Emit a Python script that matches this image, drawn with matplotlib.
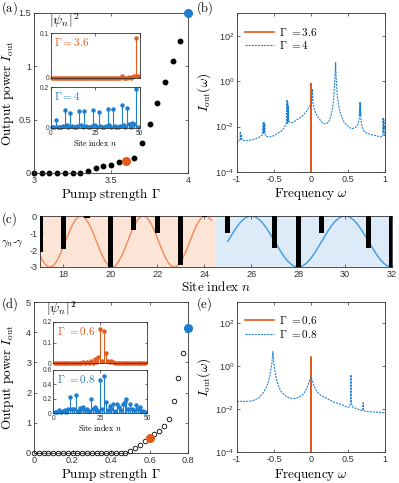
import numpy as np
import matplotlib.pyplot as plt

plt.rcParams['mathtext.fontset'] = 'cm'
plt.rcParams['font.family'] = ['Liberation Sans', 'DejaVu Sans']
plt.rcParams['axes.unicode_minus'] = False

orange = '#E25A1C'
blue = '#1E7FD0'
grey = '#333333'

# (a) output power vs pump strength
gamma_a = [3.0, 3.05, 3.1, 3.15, 3.2, 3.25, 3.3, 3.35, 3.4, 3.45, 3.5,
           3.55, 3.6, 3.65, 3.7, 3.75, 3.8, 3.85, 3.9, 3.95, 4.0]
iout_a = [0, 0, 0, 0, 0, 0, 0, 0.02, 0.044, 0.063, 0.075,
          0.10, 0.113, 0.138, 0.285, 0.46, 0.655, 0.85, 1.05, 1.24, 1.5]
pick_a = [3.6, 4.0]

# (d) output power vs pump strength
gamma_d = [0.0, 0.025, 0.05, 0.075, 0.1, 0.125, 0.15, 0.175, 0.2, 0.225, 0.25,
           0.275, 0.3, 0.325, 0.35, 0.375, 0.4, 0.425, 0.45, 0.475, 0.5,
           0.525, 0.55, 0.575, 0.6, 0.625, 0.65, 0.675, 0.7, 0.725, 0.75,
           0.775, 0.8]
iout_d = [0, 0, 0, 0, 0, 0, 0, 0, 0, 0, 0,
          0, 0, 0, 0, 0, 0, 0, 0, 0, 0.05,
          0.155, 0.27, 0.39, 0.51, 0.62, 0.74, 0.88, 1.13, 1.73, 2.5,
          3.31, 4.13]
pick_d = [0.6, 0.8]

# site profiles |psi_n|^2, n = 1..49
sites = list(range(1, 50))
psi_a36 = [0, 0, 0, 0, 0, 0, 0, 0, 0, 0,
           0, 0, 0, 0, 0, 0, 0, 0, 0, 0,
           0, 0, 0, 0, 0, 0, 0, 0, 0, 0,
           0, 0, 0, 0, 0, 0, 0, 0, 0, 0.004,
           0, 0, 0, 0.002, 0, 0.003, 0.005, 0.09, 0.004]
psi_a4 = [0.005, 0.006, 0.04, 0.005, 0.004, 0.006, 0.01, 0.088, 0.016, 0.005,
          0.073, 0.012, 0.004, 0.006, 0.01, 0.083, 0.016, 0.005, 0.083, 0.012,
          0.004, 0.006, 0.01, 0.088, 0.016, 0.005, 0.079, 0.012, 0.004, 0.006,
          0.01, 0.093, 0.016, 0.005, 0.091, 0.012, 0.004, 0.006, 0.01, 0.112,
          0.016, 0.005, 0.10, 0.02, 0.006, 0.022, 0.02, 0.19, 0.006]
psi_d06 = [0, 0, 0, 0, 0, 0, 0, 0, 0, 0,
           0, 0, 0, 0, 0, 0.003, 0, 0.004, 0, 0.008,
           0, 0.02, 0.006, 0.03, 0.165, 0.008, 0.155, 0.05, 0.012, 0.006,
           0.008, 0.003, 0, 0, 0, 0, 0, 0, 0, 0,
           0, 0, 0, 0, 0, 0, 0, 0, 0]
psi_d08 = [0.01, 0.02, 0.04, 0.02, 0.03, 0.04, 0.02, 0.05, 0.22, 0.06,
           0.06, 0.25, 0.03, 0.07, 0.05, 0.08, 0.04, 0.05, 0.03, 0.20,
           0.06, 0.08, 0.05, 0.03, 0.46, 0.05, 0.52, 0.15, 0.04, 0.10,
           0.06, 0.12, 0.03, 0.12, 0.08, 0.04, 0.13, 0.15, 0.20, 0.05,
           0.12, 0.06, 0.04, 0.11, 0.05, 0.08, 0.03, 0.03, 0.01]

# (b) spectra
w_b36 = [-1.0, -0.003, 0.0, 0.003, 1.0]
s_b36 = [1e-9, 1e-9, 0.78, 1e-9, 1e-9]
w_b4 = [-1.0, -0.98, -0.96, -0.955, -0.95, -0.94, -0.935, -0.9, -0.85, -0.8,
        -0.75, -0.7, -0.66, -0.645, -0.64, -0.635, -0.63, -0.625, -0.62, -0.6,
        -0.55, -0.5, -0.45, -0.4, -0.36, -0.335, -0.325, -0.32, -0.315, -0.31,
        -0.305, -0.3, -0.28, -0.25, -0.2, -0.15, -0.1, -0.06, -0.03, -0.01,
        0.0, 0.01, 0.02, 0.025, 0.035, 0.05, 0.08, 0.12, 0.16, 0.2,
        0.24, 0.27, 0.29, 0.305, 0.315, 0.325, 0.333, 0.34, 0.35, 0.36,
        0.375, 0.4, 0.45, 0.5,
        0.55, 0.6, 0.63, 0.65, 0.66, 0.665, 0.67, 0.675, 0.69, 0.72,
        0.76, 0.8, 0.85, 0.9, 0.95, 0.97, 0.975, 0.98, 0.985, 0.99, 1.0]
s_b4 = [2.0e-3, 2.2e-3, 2.6e-3, 6.0e-3, 2.8e-3, 4.5e-3, 2.7e-3, 2.4e-3, 2.4e-3, 2.6e-3,
        2.9e-3, 3.4e-3, 4.2e-3, 1.5e-2, 5.0e-3, 1.6e-2, 5.5e-3, 1.3e-2, 4.5e-3, 3.6e-3,
        3.5e-3, 4.0e-3, 5.0e-3, 6.5e-3, 9.0e-3, 1.3e-2, 0.15, 1.4e-2, 0.12, 1.5e-2,
        0.08, 1.6e-2, 1.5e-2, 1.5e-2, 1.9e-2, 2.4e-2, 3.3e-2, 4.7e-2, 7.0e-2, 9.0e-2,
        0.1, 0.12, 0.45, 0.12, 0.08, 0.05, 0.03, 0.02, 0.014, 0.013,
        0.016, 0.03, 0.06, 0.15, 0.45, 1.8, 6.5, 1.5, 0.4, 0.18,
        0.08, 0.035, 0.015, 0.01,
        0.008, 0.009, 0.012, 0.02, 0.12, 0.03, 0.11, 0.02, 0.01, 0.006,
        0.005, 0.0045, 0.0042, 0.0038, 0.0035, 0.004, 0.025, 0.005, 0.02, 0.004, 0.005]

# (e) spectra
w_e06 = [-1.0, -0.003, 0.0, 0.003, 1.0]
s_e06 = [1e-9, 1e-9, 2.75, 1e-9, 1e-9]
w_e08 = [-1.0, -0.9, -0.8, -0.75, -0.7, -0.65, -0.6, -0.57, -0.55, -0.53,
         -0.515, -0.5, -0.48, -0.46, -0.43, -0.4, -0.35, -0.3, -0.25, -0.2,
         -0.15, -0.1, -0.07, -0.04, -0.02, 0.0, 0.02, 0.04, 0.07, 0.1,
         0.15, 0.2, 0.25, 0.3, 0.35, 0.4, 0.45, 0.5, 0.52, 0.535,
         0.54, 0.545, 0.56, 0.6, 0.65, 0.7, 0.705, 0.71, 0.75, 0.8, 0.9, 1.0]
s_e08 = [0.023, 0.023, 0.024, 0.028, 0.035, 0.055, 0.11, 0.22, 0.5, 1.2,
         4.8, 1.2, 0.45, 0.2, 0.1, 0.065, 0.043, 0.034, 0.031, 0.032,
         0.038, 0.052, 0.075, 0.13, 0.22, 0.32, 0.2, 0.12, 0.075, 0.055,
         0.04, 0.034, 0.027, 0.022, 0.019, 0.017, 0.014, 0.012, 0.013, 0.02,
         0.4, 0.02, 0.013, 0.011, 0.0095, 0.0085, 0.02, 0.0085, 0.0078, 0.0075, 0.0072, 0.0068]

# (c) gain/loss modulation
sites_c = [17, 18, 19, 20, 21, 22, 23, 24, 25, 26, 27, 28, 29, 30, 31, 32]
gap_c = [-2.1, -1.95, -0.12, -3.0, -0.8, -1.0, -2.9, -0.03,
         -1.0, 0.0, -1.9, -3.0, -1.0, 0.0, -1.9, -3.0]
span_left = (17, 24.5)
span_right = (24.5, 32)
period_left, min_left = 2.65, 20.07
period_right, min_right = 4.0, 28.0

W, H = 399, 483
fig = plt.figure(figsize=(W / 100, H / 100), dpi=100)


def frac(l, t, r, b):
    return [l / W, 1 - b / H, (r - l) / W, (b - t) / H]


def style(ax, size=6.6, pad=2.0):
    ax.tick_params(direction='in', top=True, right=True, length=2.5, width=0.5,
                   labelsize=size, colors=grey, pad=pad)
    ax.tick_params(which='minor', length=0)
    for s in ax.spines.values():
        s.set_linewidth(0.6)
        s.set_color(grey)


def stems(ax, y, c):
    ml, sl, bl = ax.stem(sites, y, basefmt='-')
    plt.setp(sl, color=c, linewidth=0.8)
    plt.setp(ml, color=c, markersize=2.2, clip_on=False)
    plt.setp(bl, color=c, linewidth=1.0)


def power_panel(rect, g, v, picks, xlim, ylim, xt, yt, open_marks, xlab_y):
    ax = fig.add_axes(frac(*rect))
    g = np.array(g)
    v = np.array(v)
    rest = ~np.isin(np.round(g, 4), picks)
    if open_marks:
        ax.plot(g[rest], v[rest], 'o', ms=3.3, mfc='none', mec='k', mew=0.6, clip_on=False)
    else:
        ax.plot(g[rest], v[rest], 'o', ms=3.2, color='k', clip_on=False)
    for p, c in zip(picks, [orange, blue]):
        k = np.isclose(g, p)
        ax.plot(g[k], v[k], 'o', ms=5.5, color=c, clip_on=False, zorder=5)
    ax.set_xlim(*xlim)
    ax.set_ylim(*ylim)
    ax.set_xticks(xt)
    ax.set_yticks(yt)
    ax.set_xticklabels([('%g' % t) for t in xt])
    ax.set_yticklabels([('%g' % t) for t in yt])
    style(ax)
    ax.set_xlabel(r'$\mathrm{Pump\ strength}\ \Gamma$', fontsize=9.5)
    ax.set_ylabel(r'$\mathrm{Output\ power}\ I_{\mathrm{out}}$', fontsize=9.5)
    ax.xaxis.label.set_va('center')
    ax.yaxis.label.set_va('center')
    ax.xaxis.set_label_coords(0.5, xlab_y)
    ax.yaxis.set_label_coords(-0.17, 0.5)
    return ax


def inset(rect, y, c, ymax, yt, label, bottom):
    ax = fig.add_axes(frac(*rect))
    stems(ax, y, c)
    ax.set_xlim(0, 50)
    ax.set_ylim(0, ymax)
    ax.set_xticks([0, 25, 50])
    ax.set_yticks(yt)
    ax.set_yticklabels([('%g' % t) for t in yt])
    style(ax, size=4.8, pad=1.2)
    ax.tick_params(length=1.8)
    if bottom:
        ax.set_xlabel(r'$\mathrm{Site\ index}\ n$', fontsize=5.8, labelpad=0.5)
    else:
        ax.set_xticklabels([])
    ax.text(0.04, 0.93, label, transform=ax.transAxes, color=c, fontsize=8,
            ha='left', va='top')
    return ax


def spectrum_panel(rect, w1, s1, w2, s2, labels, ylim, xlab_y):
    ax = fig.add_axes(frac(*rect))
    ax.semilogy(w1, s1, '-', color=orange, lw=1.2, label=labels[0])
    ax.semilogy(w2, s2, '--', color=blue, lw=0.8, dashes=(1.8, 1.0), label=labels[1])
    ax.set_xlim(-1, 1)
    ax.set_ylim(*ylim)
    ax.set_xticks([-1, -0.5, 0, 0.5, 1])
    ax.set_xticklabels(['-1', '-0.5', '0', '0.5', '1'])
    ax.set_yticks([1e-4, 1e-2, 1e0, 1e2])
    ax.minorticks_off()
    style(ax)
    ax.set_xlabel(r'$\mathrm{Frequency}\ \omega$', fontsize=9.5)
    ax.set_ylabel(r'$I_{\mathrm{out}}(\omega)$', fontsize=9.5)
    ax.xaxis.label.set_va('center')
    ax.yaxis.label.set_va('center')
    ax.xaxis.set_label_coords(0.5, xlab_y)
    ax.yaxis.set_label_coords(-0.22, 0.5)
    ax.legend(loc='upper left', bbox_to_anchor=(0.0, 0.97), frameon=False,
              fontsize=8, handlelength=2.6, handletextpad=0.5, labelspacing=0.15,
              borderaxespad=0.3)
    return ax


# (a)
power_panel((34, 13, 188, 173), gamma_a, iout_a, pick_a, (3, 4), (0, 1.5),
            [3, 3.5, 4], [0, 0.5, 1, 1.5], False, -0.135)
inset((50.7, 33, 139.5, 78), psi_a36, orange, 0.1, [0, 0.1], r'$\Gamma = 3.6$', False)
inset((50.7, 87, 139.5, 128), psi_a4, blue, 0.2, [0, 0.2], r'$\Gamma = 4$', True)
fig.text(49 / W, 1 - 21 / H, r'$|\psi_n|^2$', fontsize=10, va='center', ha='left')

# (b)
spectrum_panel((237, 13, 385, 172), w_b36, s_b36, w_b4, s_b4,
               [r'$\Gamma\ \mathrm{=3.6}$', r'$\Gamma\ \mathrm{=4}$'], (1e-4, 1e3), -0.14)

# (c)
axc = fig.add_axes(frac(40, 216, 392, 267))
axc.axvspan(*span_left, color='#FCE4D6', lw=0)
axc.axvspan(*span_right, color='#DDEBF8', lw=0)
xl = np.linspace(span_left[0], 24.3, 300)
xr = np.linspace(25.0, span_right[1], 300)
axc.plot(xl, -1.5 - 1.5 * np.cos(2 * np.pi * (xl - min_left) / period_left),
         color='#F2895A', lw=1.0)
axc.plot(xr, -1.5 - 1.5 * np.cos(2 * np.pi * (xr - min_right) / period_right),
         color='#3B9AE1', lw=1.0)
axc.bar(sites_c, gap_c, width=0.22, color='k', zorder=3)
axc.set_xlim(17, 32)
axc.set_ylim(-3, 0)
axc.set_xticks([18, 20, 22, 24, 26, 28, 30, 32])
axc.set_yticks([0, -1, -2, -3])
style(axc)
axc.set_xlabel(r'$\mathrm{Site\ index}\ n$', fontsize=9.5)
axc.xaxis.label.set_va('center')
axc.xaxis.set_label_coords(0.5, -0.4)
axc.set_ylabel(r'$\gamma_n$-$\gamma$', fontsize=8, rotation=0)
axc.yaxis.label.set_va('center')
axc.yaxis.set_label_coords(-0.077, 0.45)

# (d)
power_panel((34, 302, 188, 453), gamma_d, iout_d, pick_d, (0, 0.8), (0, 5),
            [0, 0.2, 0.4, 0.6, 0.8], [0, 1, 2, 3, 4, 5], True, -0.145)
inset((53.3, 322, 147, 363), psi_d06, orange, 0.2, [0, 0.1, 0.2], r'$\Gamma\ {=}0.6$', False)
inset((53.3, 370, 147, 413), psi_d08, blue, 0.6, [0, 0.2, 0.4, 0.6], r'$\Gamma\ {=}0.8$', True)
fig.text(46 / W, 1 - 309 / H, r'$|\psi_n|^2$', fontsize=10, va='center', ha='left')

# (e)
spectrum_panel((237, 302, 385, 452), w_e06, s_e06, w_e08, s_e08,
               [r'$\Gamma\ \mathrm{=0.6}$', r'$\Gamma\ \mathrm{=0.8}$'], (1e-4, 1e3), -0.155)

# panel letters
for lab, x, y in [('(a)', 1, 8), ('(b)', 196, 8), ('(c)', 1, 219),
                  ('(d)', 1, 304), ('(e)', 196, 304)]:
    fig.text(x / W, 1 - y / H, r'$\mathrm{' + lab + '}$', fontsize=9,
             va='center', ha='left')

fig.savefig('out.png', dpi=100)
